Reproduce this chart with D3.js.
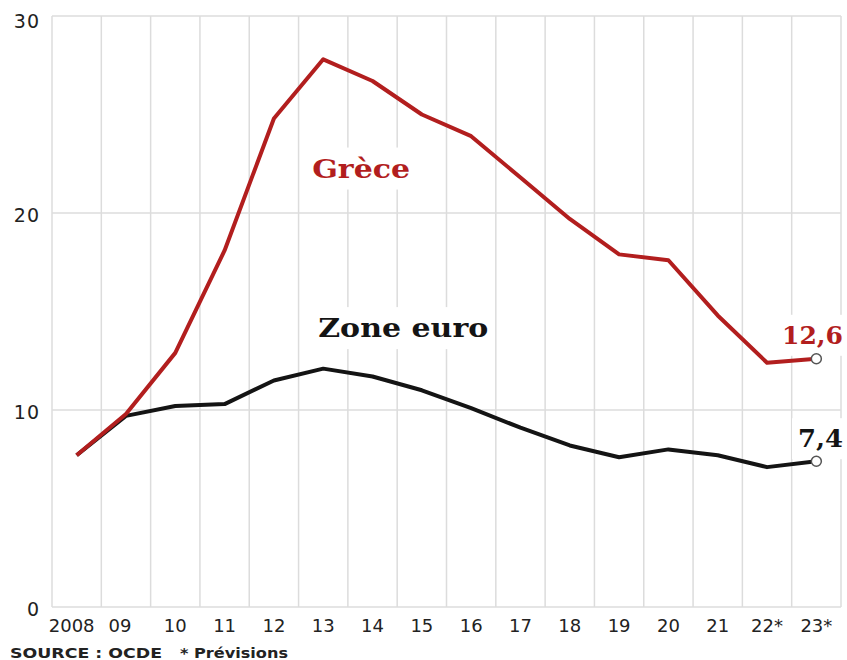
<!DOCTYPE html>
<html><head><meta charset="utf-8">
<script src="https://cdn.jsdelivr.net/npm/d3@7"></script>
<style>html,body{margin:0;padding:0;background:#fff;}svg{display:block;}</style>
</head><body>
<script>
const years = ["2008","09","10","11","12","13","14","15","16","17","18","19","20","21","22*","23*"];
const greece = [7.7, 9.8, 12.9, 18.1, 24.8, 27.8, 26.7, 25.0, 23.9, 21.8, 19.7, 17.9, 17.6, 14.8, 12.4, 12.6];
const euro = [7.7, 9.7, 10.2, 10.3, 11.5, 12.1, 11.7, 11.0, 10.1, 9.1, 8.2, 7.6, 8.0, 7.7, 7.1, 7.4];
const yTicks = [0, 10, 20, 30];
const seriesNames = ["Grèce", "Zone euro"];
const endLabels = ["12,6", "7,4"];
const sourceText = "SOURCE : OCDE";
const noteText = "* Prévisions";

const W = 847, H = 660;
const svg = d3.select("body").append("svg").attr("width", W).attr("height", H);
const x = d3.scaleBand().domain(years).range([52, 841]).paddingInner(0).paddingOuter(0);
const bw = x.bandwidth();
const xc = d => x(d) + bw / 2;
const y = d3.scaleLinear().domain([0, 30]).range([607, 16]);
const sans = "'DejaVu Sans', sans-serif";
const serif = "'DejaVu Serif', serif";
const RED = "#b21e1e", BLACK = "#141414", GRID = "#dcdcdc";

// grid
const grid = svg.append("g");
const edges = years.map(d => x(d)).concat([x(years[years.length-1]) + bw]);
grid.selectAll("line.v").data(edges).enter().append("line")
  .attr("x1", d => d).attr("x2", d => d).attr("y1", y(30)).attr("y2", y(0))
  .attr("stroke", GRID).attr("stroke-width", 1.5);
grid.selectAll("line.h").data(yTicks).enter().append("line")
  .attr("x1", 52).attr("x2", 841).attr("y1", d => y(d)).attr("y2", d => y(d))
  .attr("stroke", GRID).attr("stroke-width", 1.5);

// y labels
svg.append("g").selectAll("text").data(yTicks).enter().append("text")
  .attr("x", 40).attr("y", d => y(d) + (d === 30 ? 5 : 2))
  .attr("text-anchor", "end").attr("dominant-baseline", "central")
  .attr("font-family", sans).attr("font-size", 19).attr("letter-spacing", 1).attr("fill", "#222")
  .text(d => d);

// x labels
svg.append("g").selectAll("text").data(years).enter().append("text")
  .attr("x", (d, i) => xc(d) + (i === 0 ? -5 : (i === 1 ? -6 : 0)))
  .attr("y", 632)
  .attr("text-anchor", "middle")
  .attr("font-family", sans).attr("font-size", 18).attr("fill", "#222")
  .text(d => d);

// source
svg.append("text").attr("x", 10).attr("y", 658)
  .attr("font-family", sans).attr("font-size", 14.5).attr("font-weight", "bold").attr("fill", "#222")
  .attr("textLength", 152).attr("lengthAdjust", "spacingAndGlyphs").text(sourceText);
svg.append("text").attr("x", 180).attr("y", 658)
  .attr("font-family", sans).attr("font-size", 14.5).attr("font-weight", "bold").attr("fill", "#222")
  .attr("textLength", 108).attr("lengthAdjust", "spacingAndGlyphs").text(noteText);

// labels with white backgrounds
const bgLayer = svg.append("g");
const lineLayer = svg.append("g");
const labelLayer = svg.append("g");

function label(txt, lx, ly, color, size, anchor, len) {
  const t = labelLayer.append("text").attr("x", lx).attr("y", ly)
    .attr("text-anchor", anchor).attr("font-family", serif).attr("font-weight", "bold")
    .attr("font-size", size).attr("fill", color).text(txt);
  if (len) t.attr("textLength", len).attr("lengthAdjust", "spacingAndGlyphs");
  const b = t.node().getBBox();
  bgLayer.append("rect").attr("x", b.x - 6).attr("y", b.y - 6)
    .attr("width", b.width + 12).attr("height", b.height + 12).attr("fill", "#fff");
  return t;
}
label(seriesNames[0], xc("13") - 11, y(21.8), RED, 26, "start", 98);
label(seriesNames[1], xc("13") - 5, y(13.7), BLACK, 26, "start", 170);
label(endLabels[0], 843, y(greece[15]) - 15, RED, 25, "end", 61);
label(endLabels[1], 843, y(euro[15]) - 14, BLACK, 25, "end", 45);

const line = d3.line().x((d, i) => xc(years[i])).y(d => y(d));
lineLayer.append("path").datum(euro).attr("d", line)
  .attr("fill", "none").attr("stroke", BLACK).attr("stroke-width", 4).attr("stroke-linejoin", "round");
lineLayer.append("path").datum(greece).attr("d", line)
  .attr("fill", "none").attr("stroke", RED).attr("stroke-width", 4).attr("stroke-linejoin", "round");

// end markers
const last = years.length - 1;
[greece, euro].forEach(s => {
  lineLayer.append("circle").attr("cx", xc(years[last])).attr("cy", y(s[last])).attr("r", 5)
    .attr("fill", "#fff").attr("stroke", "#555").attr("stroke-width", 1.5);
});
</script>
</body></html>
